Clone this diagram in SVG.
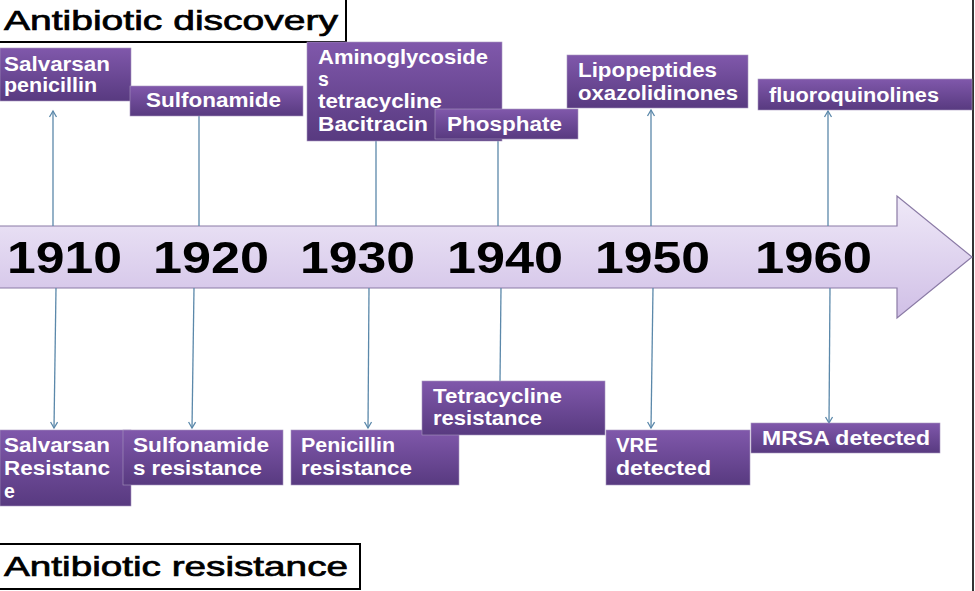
<svg xmlns="http://www.w3.org/2000/svg" width="975" height="591" viewBox="0 0 975 591">
<defs>
<linearGradient id="boxg" x1="0" y1="0" x2="0" y2="1">
<stop offset="0" stop-color="#8058ab"/>
<stop offset="1" stop-color="#583a80"/>
</linearGradient>
<linearGradient id="arrg" x1="0" y1="0" x2="0" y2="1">
<stop offset="0" stop-color="#efe9f8"/>
<stop offset="1" stop-color="#d0bfe6"/>
</linearGradient>
<marker id="ah" markerWidth="10" markerHeight="10" refX="8" refY="5" orient="auto" markerUnits="userSpaceOnUse">
<path d="M2,1.5 L8,5 L2,8.5" fill="none" stroke="#5b88aa" stroke-width="1.3"/>
</marker>
<style>
.box{fill:url(#boxg);stroke:#a898c0;stroke-width:0.6}
.bt{font-family:"Liberation Sans",Arial,sans-serif;font-weight:bold;font-size:19.5px;fill:#ffffff}
.yr{font-family:"Liberation Sans",Arial,sans-serif;font-weight:bold;font-size:45px;fill:#000000}
.ttl{font-family:"Liberation Sans",Arial,sans-serif;font-size:28px;fill:#000000;stroke:#000000;stroke-width:0.7}
.ln{stroke:#5b88aa;stroke-width:1.3;fill:none}
</style>
</defs>
<rect x="0" y="0" width="975" height="591" fill="#ffffff"/>
<line x1="973" y1="0" x2="973" y2="591" stroke="#333333" stroke-width="2"/>

<g id="timeline">
<path d="M-5,226 L897,226 L897,196 L972,257 L897,318 L897,288 L-5,288 Z" fill="url(#arrg)" stroke="#8a7aa5" stroke-width="1.2"/>
<text class="yr" x="7" y="273" textLength="115" lengthAdjust="spacingAndGlyphs">1910</text>
<text class="yr" x="153" y="273" textLength="116" lengthAdjust="spacingAndGlyphs">1920</text>
<text class="yr" x="300" y="273" textLength="115" lengthAdjust="spacingAndGlyphs">1930</text>
<text class="yr" x="447" y="273" textLength="116" lengthAdjust="spacingAndGlyphs">1940</text>
<text class="yr" x="595" y="273" textLength="115" lengthAdjust="spacingAndGlyphs">1950</text>
<text class="yr" x="755" y="273" textLength="117" lengthAdjust="spacingAndGlyphs">1960</text>
</g>

<g id="connectors">
<line class="ln" x1="53" y1="226" x2="53" y2="111" marker-end="url(#ah)"/>
<line class="ln" x1="199" y1="226" x2="199" y2="116"/>
<line class="ln" x1="376" y1="226" x2="376" y2="140"/>
<line class="ln" x1="498" y1="226" x2="498" y2="139"/>
<line class="ln" x1="651" y1="226" x2="651" y2="110" marker-end="url(#ah)"/>
<line class="ln" x1="828" y1="226" x2="828" y2="111" marker-end="url(#ah)"/>
<line class="ln" x1="56" y1="288" x2="54" y2="428" marker-end="url(#ah)"/>
<line class="ln" x1="194" y1="288" x2="192" y2="428" marker-end="url(#ah)"/>
<line class="ln" x1="369" y1="288" x2="368" y2="428" marker-end="url(#ah)"/>
<line class="ln" x1="501" y1="288" x2="500" y2="381"/>
<line class="ln" x1="653" y1="288" x2="651" y2="428" marker-end="url(#ah)"/>
<line class="ln" x1="830" y1="288" x2="829" y2="423" marker-end="url(#ah)"/>
</g>

<g id="title-discovery">
<rect x="-2" y="-1" width="348" height="43" fill="#ffffff" stroke="#000000" stroke-width="2"/>
<text class="ttl" x="4" y="30" textLength="334" lengthAdjust="spacingAndGlyphs">Antibiotic discovery</text>
</g>

<g id="d1910">
<rect class="box" x="0" y="48" width="131" height="53"/>
<text class="bt" x="4" y="71" textLength="106" lengthAdjust="spacingAndGlyphs">Salvarsan</text>
<text class="bt" x="4" y="92" textLength="93" lengthAdjust="spacingAndGlyphs">penicillin</text>
</g>
<g id="d1920">
<rect class="box" x="130" y="86" width="173" height="30"/>
<text class="bt" x="146" y="107" textLength="135" lengthAdjust="spacingAndGlyphs">Sulfonamide</text>
</g>
<g id="d1930">
<rect class="box" x="307" y="42" width="195" height="99"/>
<text class="bt" x="318" y="64" textLength="170" lengthAdjust="spacingAndGlyphs">Aminoglycoside</text>
<text class="bt" x="318" y="86">s</text>
<text class="bt" x="318" y="108" textLength="124" lengthAdjust="spacingAndGlyphs">tetracycline</text>
<text class="bt" x="318" y="131" textLength="110" lengthAdjust="spacingAndGlyphs">Bacitracin</text>
</g>
<g id="d1940">
<rect class="box" x="435" y="109" width="143" height="30"/>
<text class="bt" x="447" y="131" textLength="115" lengthAdjust="spacingAndGlyphs">Phosphate</text>
</g>
<g id="d1950">
<rect class="box" x="567" y="55" width="181" height="53"/>
<text class="bt" x="578" y="77" textLength="139" lengthAdjust="spacingAndGlyphs">Lipopeptides</text>
<text class="bt" x="578" y="100" textLength="160" lengthAdjust="spacingAndGlyphs">oxazolidinones</text>
</g>
<g id="d1960">
<rect class="box" x="758" y="79" width="214" height="31"/>
<text class="bt" x="769" y="102" textLength="170" lengthAdjust="spacingAndGlyphs">fluoroquinolines</text>
</g>

<g id="r1910">
<rect class="box" x="0" y="430" width="131" height="76"/>
<text class="bt" x="4" y="452" textLength="106" lengthAdjust="spacingAndGlyphs">Salvarsan</text>
<text class="bt" x="4" y="475" textLength="106" lengthAdjust="spacingAndGlyphs">Resistanc</text>
<text class="bt" x="4" y="498">e</text>
</g>
<g id="r1920">
<rect class="box" x="123" y="430" width="160" height="55"/>
<text class="bt" x="133" y="452" textLength="136" lengthAdjust="spacingAndGlyphs">Sulfonamide</text>
<text class="bt" x="133" y="475" textLength="129" lengthAdjust="spacingAndGlyphs">s resistance</text>
</g>
<g id="r1930">
<rect class="box" x="291" y="430" width="168" height="55"/>
<text class="bt" x="301" y="452" textLength="94" lengthAdjust="spacingAndGlyphs">Penicillin</text>
<text class="bt" x="301" y="475" textLength="111" lengthAdjust="spacingAndGlyphs">resistance</text>
</g>
<g id="r1940">
<rect class="box" x="422" y="381" width="183" height="54"/>
<text class="bt" x="433" y="403" textLength="129" lengthAdjust="spacingAndGlyphs">Tetracycline</text>
<text class="bt" x="433" y="425" textLength="109" lengthAdjust="spacingAndGlyphs">resistance</text>
</g>
<g id="r1950">
<rect class="box" x="606" y="430" width="144" height="55"/>
<text class="bt" x="616" y="452" textLength="42" lengthAdjust="spacingAndGlyphs">VRE</text>
<text class="bt" x="616" y="475" textLength="95" lengthAdjust="spacingAndGlyphs">detected</text>
</g>
<g id="r1960">
<rect class="box" x="751" y="423" width="189" height="30"/>
<text class="bt" x="762" y="445" textLength="168" lengthAdjust="spacingAndGlyphs">MRSA detected</text>
</g>

<g id="title-resistance">
<rect x="-2" y="544" width="362" height="45" fill="#ffffff" stroke="#000000" stroke-width="2"/>
<text class="ttl" x="4" y="576" textLength="344" lengthAdjust="spacingAndGlyphs">Antibiotic resistance</text>
</g>
</svg>
